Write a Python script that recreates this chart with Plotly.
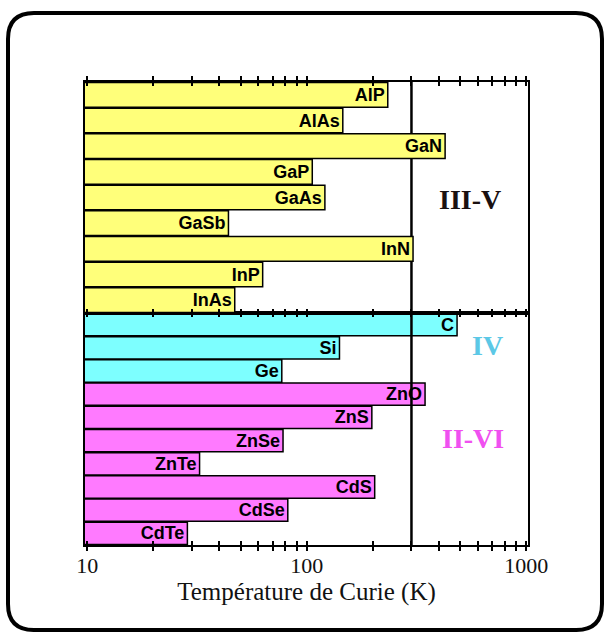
import plotly.graph_objects as go

# ---- data ----
iii_v_names = ["AlP", "AlAs", "GaN", "GaP", "GaAs", "GaSb", "InN", "InP", "InAs"]
iii_v_tc = [234, 146, 427, 106, 121, 44, 305, 63, 47]

iv_names = ["C", "Si", "Ge"]
iv_tc = [484, 141, 77]

ii_vi_names = ["ZnO", "ZnS", "ZnSe", "ZnTe", "CdS", "CdSe", "CdTe"]
ii_vi_tc = [346, 198, 78, 32.5, 204, 82, 28.6]

room_temperature = 300
tick_values = [10, 20, 30, 40, 50, 60, 70, 80, 90, 100, 200, 300, 400, 500,
               600, 700, 800, 900, 1000]
tick_labels = ["10", "", "", "", "", "", "", "", "", "100", "", "", "", "",
               "", "", "", "", "1000"]

# ---- layout geometry ----
W, H = 604, 632
L, R, T, B = 85, 528, 82, 545
def px(x):
    return (x - L) / (R - L)
def py(y):
    return (B - y) / (B - T)

split = py(313)

YELLOW = "#ffff7a"
CYAN = "#7dffff"
MAGENTA = "#ff7aff"
label_font = dict(family="Liberation Sans, Arial", size=18, color="black")

fig = go.Figure()

fig.add_trace(go.Bar(
    y=iii_v_names, x=iii_v_tc, orientation="h",
    marker=dict(color=YELLOW, line=dict(color="black", width=1.5)),
    text=["<b>%s</b>" % n for n in iii_v_names], textposition="inside",
    insidetextanchor="end",
    textangle=0, constraintext="none", textfont=label_font,
    xaxis="x2", yaxis="y2", showlegend=False, hoverinfo="x+y",
))

bottom_names = iv_names + ii_vi_names
bottom_vals = iv_tc + ii_vi_tc
bottom_colors = [CYAN] * len(iv_names) + [MAGENTA] * len(ii_vi_names)
fig.add_trace(go.Bar(
    y=bottom_names, x=bottom_vals, orientation="h",
    marker=dict(color=bottom_colors, line=dict(color="black", width=1.5)),
    text=["<b>%s</b>" % n for n in bottom_names], textposition="inside",
    insidetextanchor="end",
    textangle=0, constraintext="none", textfont=label_font,
    xaxis="x", yaxis="y", showlegend=False, hoverinfo="x+y",
))

# room temperature line across both panels
fig.add_trace(go.Scatter(
    x=[room_temperature, room_temperature], y=[0, 1], mode="lines",
    line=dict(color="black", width=2.5), xaxis="x", yaxis="y3",
    showlegend=False, hoverinfo="skip",
))

xrange = [0.99, 3.008]
xcommon = dict(
    type="log", range=xrange, tickmode="array", tickvals=tick_values,
    ticktext=tick_labels, ticks="inside", ticklen=4, tickwidth=2,
    tickcolor="black", showline=True, linecolor="black", linewidth=2,
    mirror="allticks", showgrid=False, zeroline=False,
)

serif = "Liberation Serif, Times New Roman"
fig.update_layout(
    width=W, height=H,
    margin=dict(l=L, r=W - R, t=T, b=H - B, pad=0),
    paper_bgcolor="white", plot_bgcolor="rgba(0,0,0,0)",
    bargap=0.04,
    xaxis=dict(
        **xcommon, anchor="y",
        tickfont=dict(family=serif, size=22, color="#111"),
        title=dict(text="Température de Curie (K)", standoff=2,
                   font=dict(family=serif, size=25, color="#111")),
    ),
    xaxis2=dict(**xcommon, anchor="y2", matches="x", showticklabels=False),
    yaxis=dict(domain=[0, split], anchor="x", autorange="reversed",
               showticklabels=False, ticks="", showline=True,
               linecolor="black", linewidth=2, mirror=True, showgrid=False,
               categoryorder="array", categoryarray=bottom_names),
    yaxis2=dict(domain=[split, 1], anchor="x2", autorange="reversed",
                showticklabels=False, ticks="", showline=True,
                linecolor="black", linewidth=2, mirror=True, showgrid=False,
                categoryorder="array", categoryarray=iii_v_names),
    yaxis3=dict(domain=[0, 1], anchor="x", range=[0, 1], visible=False,
                fixedrange=True),
)

for txt, xx, yy, col in [("III-V", 470, 200, "#1a1010"),
                         ("IV", 487, 345, "#5cc8e6"),
                         ("II-VI", 473, 438, "#f050f0")]:
    fig.add_annotation(text="<b>%s</b>" % txt, x=px(xx), y=py(yy),
                       xref="paper", yref="paper", showarrow=False,
                       xanchor="center", yanchor="middle",
                       font=dict(family=serif, size=28, color=col))

# rounded outer frame
x0, x1, y0, y1, r = 8, 602, 13, 630, 26
def P(x, y):
    return f"{px(x):.5f},{py(y):.5f}"
path = (f"M {P(x0 + r, y0)} L {P(x1 - r, y0)} Q {P(x1, y0)} {P(x1, y0 + r)} "
        f"L {P(x1, y1 - r)} Q {P(x1, y1)} {P(x1 - r, y1)} "
        f"L {P(x0 + r, y1)} Q {P(x0, y1)} {P(x0, y1 - r)} "
        f"L {P(x0, y0 + r)} Q {P(x0, y0)} {P(x0 + r, y0)} Z")
fig.add_shape(type="path", path=path, xref="paper", yref="paper",
              line=dict(color="black", width=4), layer="above")

fig.write_html("out.html")
